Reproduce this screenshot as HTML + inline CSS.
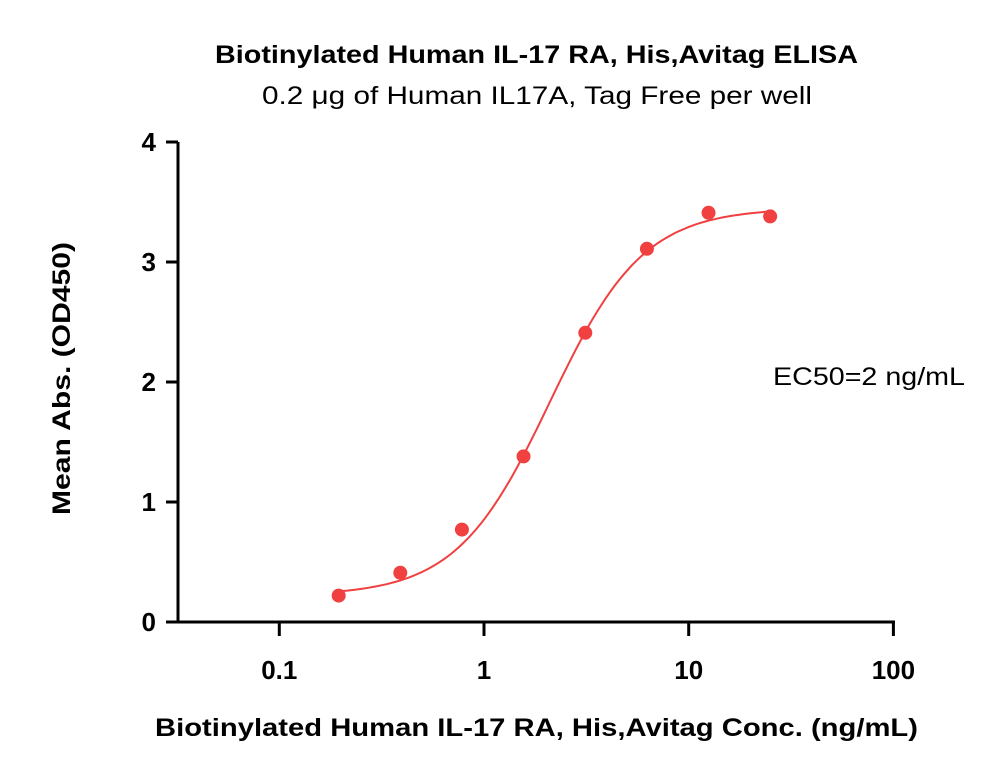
<!DOCTYPE html>
<html><head><meta charset="utf-8"><style>
body{margin:0;background:#fff;width:1000px;height:782px;overflow:hidden}
svg{display:block;font-family:"Liberation Sans",sans-serif}
</style></head><body>
<svg id="chart" width="1000" height="782">
<text x="215" y="63" textLength="643" lengthAdjust="spacingAndGlyphs" font-size="25" font-weight="bold">Biotinylated Human IL-17 RA, His,Avitag ELISA</text>
<text x="262" y="104" textLength="550" lengthAdjust="spacingAndGlyphs" font-size="25">0.2 μg of Human IL17A, Tag Free per well</text>
<text x="155" y="736" textLength="763" lengthAdjust="spacingAndGlyphs" font-size="25" font-weight="bold">Biotinylated Human IL-17 RA, His,Avitag Conc. (ng/mL)</text>
<text transform="translate(70,515) rotate(-90)" textLength="273" lengthAdjust="spacingAndGlyphs" font-size="25" font-weight="bold">Mean Abs. (OD450)</text>
<text x="773" y="385" textLength="192" lengthAdjust="spacingAndGlyphs" font-size="25">EC50=2 ng/mL</text>
<g id="axes"></g><g id="marks"></g>
</svg>
<script>
const concentrations=[0.195,0.39,0.78,1.56,3.125,6.25,12.5,25];
const absorbance=[0.22,0.41,0.77,1.38,2.41,3.11,3.41,3.38];
const yTicks=[0,1,2,3,4];
const xTicks=[0.1,1,10,100];
const xTickLabels=["0.1","1","10","100"];
const fitParams=[0.22,3.45,2.1,1.9]; // bottom, top, EC50, hill
const NS="http://www.w3.org/2000/svg";
const X0=178,X1=895,Y0=622,Y1=142;
const xs=v=>484+(Math.log10(v))*204.7;
const ys=v=>Y0-(v/4)*(Y0-Y1);
function mk(t,a,p){const e=document.createElementNS(NS,t);for(const k in a)e.setAttribute(k,a[k]);p.appendChild(e);return e;}
const ax=document.getElementById('axes'),mg=document.getElementById('marks');
let l=mk('line',{x1:X0,y1:Y1,x2:X0,y2:Y0,stroke:'#000','stroke-width':3},ax);


l=mk('line',{x1:X0-1.5,y1:Y0,x2:X1,y2:Y0,stroke:'#000','stroke-width':3},ax);


yTicks.forEach(v=>{
 const t=mk('line',{x1:X0-12,y1:ys(v),x2:X0,y2:ys(v),stroke:'#000','stroke-width':3},ax);
 
 
 const tx=mk('text',{x:X0-22,y:ys(v)+9,'text-anchor':'end','font-size':26,'font-weight':'bold'},ax);
 tx.textContent=v;
 
 
});
xTicks.forEach((v,i)=>{
 const t=mk('line',{x1:xs(v),y1:Y0,x2:xs(v),y2:Y0+14,stroke:'#000','stroke-width':3},ax);
 
 
 const tx=mk('text',{x:xs(v),y:Y0+57,'text-anchor':'middle','font-size':26,'font-weight':'bold'},ax);
 tx.textContent=xTickLabels[i];
 
 
});
const [b,tp,ec,h]=fitParams;
let d='';const lo=Math.log10(concentrations[0]),hi=Math.log10(concentrations[concentrations.length-1]);
for(let i=0;i<=100;i++){const lx=lo+(hi-lo)*i/100,x=Math.pow(10,lx),r=Math.pow(x/ec,h),y=b+(tp-b)*r/(1+r);
 d+=(i?'L':'M')+xs(x).toFixed(1)+','+ys(y).toFixed(1);}
const c=mk('path',{d:d,fill:'none',stroke:'#f04040','stroke-width':2},mg);


concentrations.forEach((v,i)=>{
 const p=mk('circle',{cx:xs(v),cy:ys(absorbance[i]),r:7,fill:'#f04040'},mg);
 
 
});
</script>
</body></html>
